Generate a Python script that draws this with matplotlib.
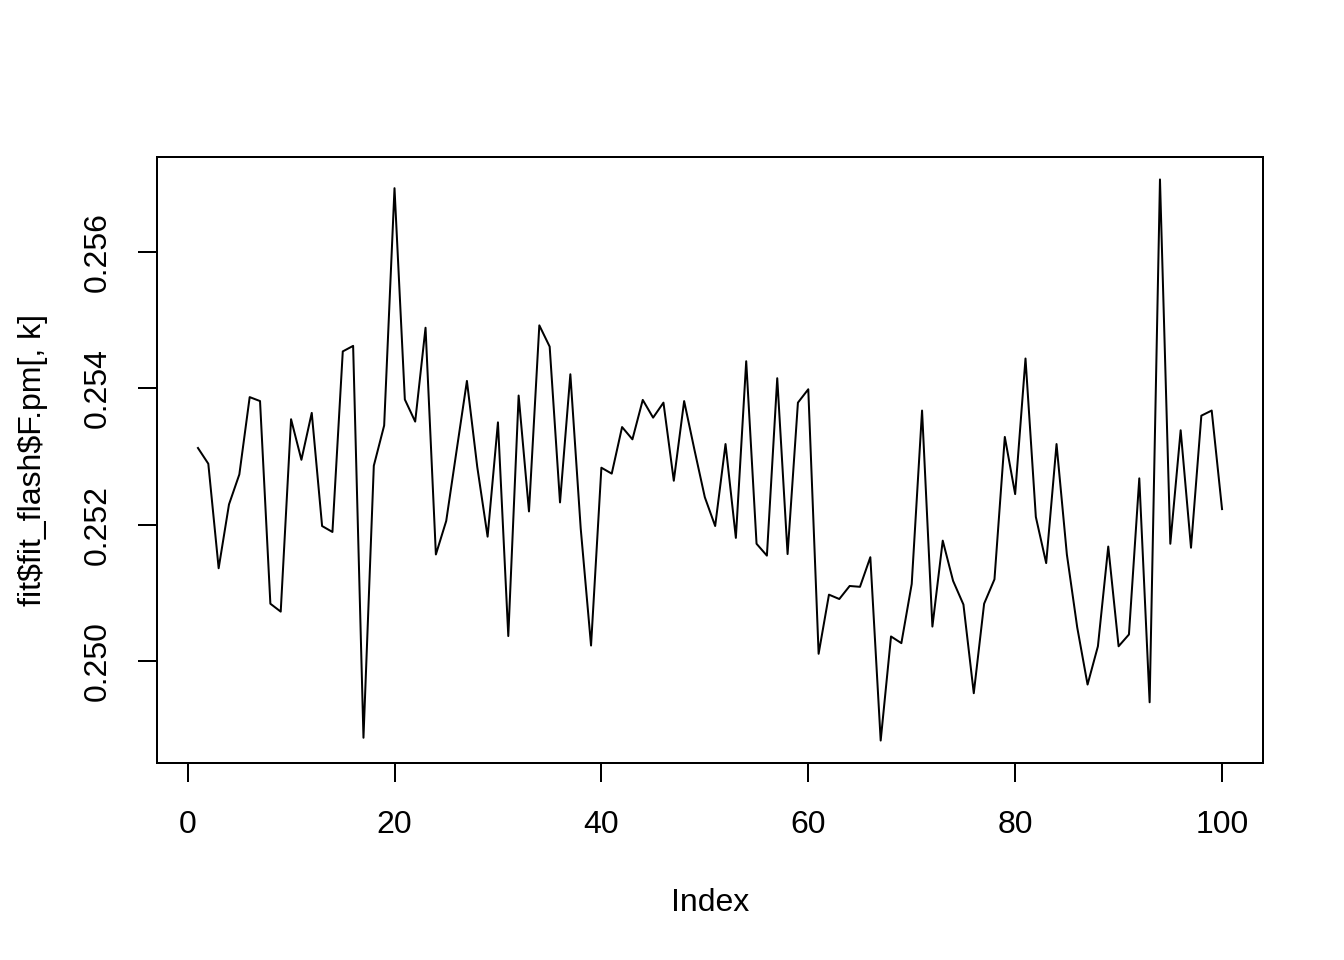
import matplotlib
matplotlib.use("Agg")
import matplotlib.pyplot as plt
import numpy as np

index = list(range(1, 101))
values = [
    0.253127, 0.252896, 0.251364, 0.252300, 0.252740, 0.253873, 0.253815, 0.250844, 0.250728, 0.253549,
    0.252954, 0.253642, 0.251983, 0.251896, 0.254543, 0.254624, 0.248879, 0.252867, 0.253457, 0.256936,
    0.253838, 0.253514, 0.254890, 0.251566, 0.252058, 0.253087, 0.254110, 0.252850, 0.251827, 0.253503,
    0.250370, 0.253896, 0.252197, 0.254925, 0.254613, 0.252329, 0.254208, 0.251950, 0.250231, 0.252838,
    0.252751, 0.253434, 0.253254, 0.253832, 0.253572, 0.253792, 0.252647, 0.253815, 0.253098, 0.252405,
    0.251983, 0.253185, 0.251809, 0.254399, 0.251723, 0.251549, 0.254150, 0.251572, 0.253792, 0.253988,
    0.250110, 0.250977, 0.250913, 0.251104, 0.251092, 0.251526, 0.248838, 0.250364, 0.250266, 0.251133,
    0.253676, 0.250509, 0.251769, 0.251179, 0.250832, 0.249532, 0.250844, 0.251202, 0.253289, 0.252451,
    0.254439, 0.252116, 0.251439, 0.253185, 0.251566, 0.250497, 0.249659, 0.250220, 0.251682, 0.250220,
    0.250393, 0.252682, 0.249399, 0.257064, 0.251723, 0.253387, 0.251665, 0.253601, 0.253676, 0.252231,
]
x_ticks = [0, 20, 40, 60, 80, 100]
y_ticks = [0.250, 0.252, 0.254, 0.256]
y_tick_labels = ["0.250", "0.252", "0.254", "0.256"]
x_label = "Index"
y_label = "fit$fit_flash$F.pm[, k]"

plt.rcParams['font.family'] = ['Liberation Sans', 'DejaVu Sans']
plt.rcParams['font.size'] = 12

fig = plt.figure(figsize=(7, 5), dpi=192)
ax = fig.add_axes([157/1344, 1 - 763/960, (1263-157)/1344, (763-157)/960])
ax.plot(index, values, color='black', linewidth=0.75)

xmin, xmax = min(index), max(index)
xr = xmax - xmin
ax.set_xlim(xmin - 0.04*xr, xmax + 0.04*xr)
ymin, ymax = min(values), max(values)
yr = ymax - ymin
ax.set_ylim(ymin - 0.04*yr, ymax + 0.04*yr)

ax.set_xticks(x_ticks)
ax.set_xticklabels([str(t) for t in x_ticks])
ax.set_yticks(y_ticks)
ax.set_yticklabels(y_tick_labels, rotation=90, va='center')

for s in ax.spines.values():
    s.set_linewidth(0.75)
ax.tick_params(direction='out', length=7.2, width=0.75, labelsize=12)
ax.tick_params(axis='x', pad=10.5)
ax.tick_params(axis='y', pad=9.5)

xl = ax.set_xlabel(x_label, fontsize=12, labelpad=18)
yl = ax.set_ylabel(y_label, fontsize=12, labelpad=13)
yl.set_parse_math(False)

fig.savefig("out.png", dpi=192)
